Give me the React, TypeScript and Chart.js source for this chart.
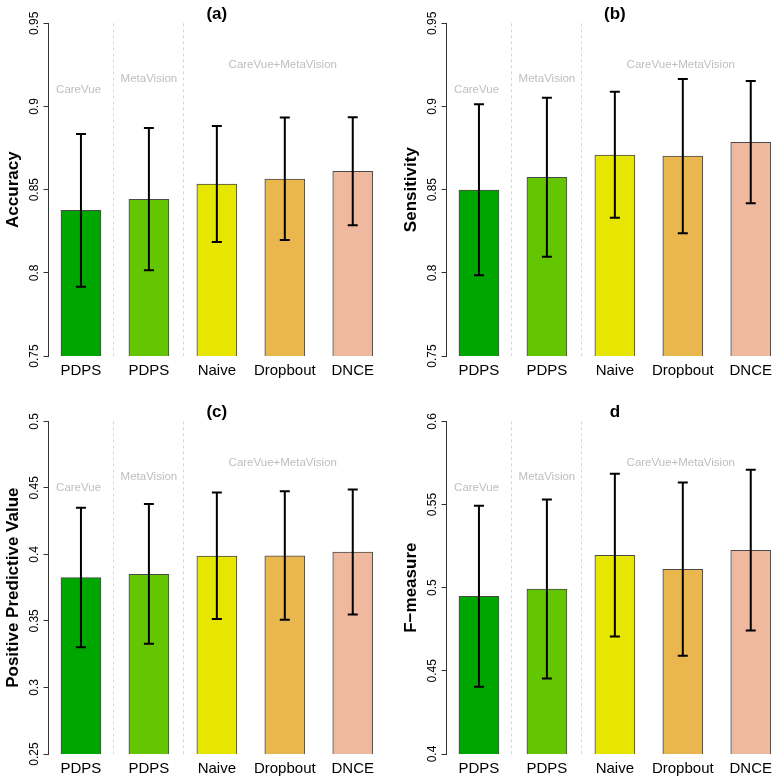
import React, { useEffect, useRef } from "react";
import { Chart, registerables } from "chart.js";

Chart.register(...registerables);

// ---------- data ----------
const CATEGORIES = ["PDPS", "PDPS", "Naive", "Dropbout", "DNCE"];
const BAR_COLORS = ["#00A600", "#63C600", "#E6E600", "#EAB64E", "#EEB99F"];
const GROUP_NAMES = ["CareVue", "MetaVision", "CareVue+MetaVision"];

const ACCURACY = [0.8376, 0.8442, 0.8534, 0.8564, 0.861];
const ACCURACY_LOW = [0.7917, 0.8015, 0.8185, 0.8197, 0.8286];
const ACCURACY_HIGH = [0.8834, 0.8871, 0.8883, 0.8933, 0.8935];

const SENSITIVITY = [0.8498, 0.8574, 0.8708, 0.8702, 0.8785];
const SENSITIVITY_LOW = [0.7985, 0.8097, 0.8331, 0.8238, 0.8418];
const SENSITIVITY_HIGH = [0.9013, 0.9053, 0.9089, 0.9165, 0.9153];

const PPV = [0.3825, 0.385, 0.3988, 0.399, 0.4018];
const PPV_LOW = [0.3303, 0.3328, 0.3515, 0.3508, 0.3548];
const PPV_HIGH = [0.435, 0.4378, 0.4465, 0.4475, 0.4488];

const FMEASURE = [0.4948, 0.4992, 0.5194, 0.511, 0.5224];
const FMEASURE_LOW = [0.4404, 0.4454, 0.4706, 0.459, 0.4742];
const FMEASURE_HIGH = [0.5492, 0.553, 0.5684, 0.5632, 0.5708];

const Y_TICKS_AB = [0.75, 0.8, 0.85, 0.9, 0.95];
const Y_TICKS_C = [0.25, 0.3, 0.35, 0.4, 0.45, 0.5];
const Y_TICKS_D = [0.4, 0.45, 0.5, 0.55, 0.6];

// ---------- layout / style ----------
const PANEL = 398;
const FONT = "'Liberation Sans', Arial, Helvetica, sans-serif";
const SEPARATORS = [0.47, 1.5];
const GROUP_POS = [
  { x: -0.035, f: 0.8 },
  { x: 1.0, f: 0.833 },
  { x: 2.97, f: 0.875 },
];

const PANELS = [
  { title: "(a)", yLabel: "Accuracy", values: ACCURACY, low: ACCURACY_LOW, high: ACCURACY_HIGH, yTicks: Y_TICKS_AB, left: 0, top: 0 },
  { title: "(b)", yLabel: "Sensitivity", values: SENSITIVITY, low: SENSITIVITY_LOW, high: SENSITIVITY_HIGH, yTicks: Y_TICKS_AB, left: PANEL, top: 0 },
  { title: "(c)", yLabel: "Positive Predictive Value", values: PPV, low: PPV_LOW, high: PPV_HIGH, yTicks: Y_TICKS_C, left: 0, top: PANEL },
  { title: "d", yLabel: "F\u2212measure", values: FMEASURE, low: FMEASURE_LOW, high: FMEASURE_HIGH, yTicks: Y_TICKS_D, left: PANEL, top: PANEL },
];

function fmt(v: number) {
  return String(Number(v.toFixed(2)));
}

function Panel({ p }: { p: any }) {
  const ref = useRef<HTMLCanvasElement>(null);
  useEffect(() => {
    const yMin = p.yTicks[0];
    const yMax = p.yTicks[p.yTicks.length - 1];
    const overlay = {
      id: "overlay",
      beforeDatasetsDraw(chart: any) {
        const { ctx, chartArea, scales } = chart;
        const x = scales.x;
        ctx.save();
        ctx.strokeStyle = "#D6D6D6";
        ctx.lineWidth = 1;
        ctx.setLineDash([3, 3]);
        for (const s of SEPARATORS) {
          const px = Math.round(x.getPixelForValue(s)) + 0.5;
          ctx.beginPath();
          ctx.moveTo(px, chartArea.top);
          ctx.lineTo(px, chartArea.bottom);
          ctx.stroke();
        }
        ctx.restore();
      },
      afterDatasetsDraw(chart: any) {
        const { ctx, chartArea, scales } = chart;
        const x = scales.x;
        const y = scales.y;
        ctx.save();
        // group labels
        ctx.fillStyle = "#BEBEBE";
        ctx.font = `11.5px ${FONT}`;
        ctx.textAlign = "center";
        ctx.textBaseline = "middle";
        GROUP_NAMES.forEach((g, i) => {
          const gp = GROUP_POS[i];
          ctx.fillText(g, x.getPixelForValue(gp.x), y.getPixelForValue(yMin + gp.f * (yMax - yMin)));
        });
        // error bars
        ctx.strokeStyle = "#000";
        ctx.lineWidth = 2;
        ctx.lineCap = "butt";
        p.values.forEach((_: number, i: number) => {
          const px = x.getPixelForValue(i);
          const yl = y.getPixelForValue(p.low[i]);
          const yh = y.getPixelForValue(p.high[i]);
          ctx.beginPath();
          ctx.moveTo(px, yl);
          ctx.lineTo(px, yh);
          ctx.moveTo(px - 5, yl);
          ctx.lineTo(px + 5, yl);
          ctx.moveTo(px - 5, yh);
          ctx.lineTo(px + 5, yh);
          ctx.stroke();
        });
        // title
        ctx.fillStyle = "#000";
        ctx.font = `bold 17px ${FONT}`;
        ctx.textAlign = "center";
        ctx.textBaseline = "middle";
        ctx.fillText(p.title, (chartArea.left + chartArea.right) / 2, 14);
        ctx.restore();
      },
    };

    const chart = new Chart(ref.current as HTMLCanvasElement, {
      type: "bar",
      data: {
        datasets: [
          {
            data: p.values.map((v: number, i: number) => ({ x: i, y: v })),
            backgroundColor: BAR_COLORS,
            borderColor: "#4a4a4a",
            borderWidth: 1,
            borderSkipped: false,
            barThickness: 40,
          },
        ],
      },
      options: {
        responsive: false,
        animation: false,
        devicePixelRatio: 1,
        events: [],
        layout: { padding: { top: 23.3, right: 12.8, left: 0, bottom: 0 } },
        plugins: { legend: { display: false }, tooltip: { enabled: false }, title: { display: false } },
        scales: {
          x: {
            type: "linear",
            offset: false,
            min: -0.4776,
            max: 4.4776,
            grid: { display: false, drawTicks: false, offset: false },
            border: { display: false },
            afterBuildTicks: (scale: any) => {
              scale.ticks = CATEGORIES.map((_, i) => ({ value: i }));
            },
            afterFit: (scale: any) => {
              scale.height = 42;
            },
            ticks: {
              autoSkip: false,
              maxRotation: 0,
              minRotation: 0,
              padding: 5.5,
              color: "#000",
              font: { family: FONT, size: 15 },
              callback: (v: any) => CATEGORIES[Math.round(Number(v))],
            },
          },
          y: {
            type: "linear",
            min: yMin,
            max: yMax,
            afterBuildTicks: (scale: any) => {
              scale.ticks = p.yTicks.map((v: number) => ({ value: v }));
            },
            afterFit: (scale: any) => {
              scale.width = 48.5;
            },
            grid: { display: true, drawOnChartArea: false, drawTicks: true, tickLength: 5, color: "#333", lineWidth: 1 },
            border: { display: true, color: "#333", width: 1 },
            title: {
              display: true,
              text: p.yLabel,
              color: "#000",
              font: { family: FONT, size: 17, weight: "bold" },
              padding: { top: 3, bottom: 0 },
            },
            ticks: {
              minRotation: 90,
              maxRotation: 90,
              crossAlign: "center",
              padding: -2.5,
              color: "#000",
              font: { family: FONT, size: 12 },
              callback: (v: any) => fmt(Number(v)),
            },
          },
        },
      } as any,
      plugins: [overlay],
    });
    return () => chart.destroy();
  }, []);
  return (
    <div style={{ position: "absolute", left: p.left, top: p.top, width: PANEL, height: PANEL }}>
      <canvas ref={ref} width={PANEL} height={PANEL} style={{ display: "block" }} />
    </div>
  );
}

export default function App() {
  useEffect(() => {
    document.body.style.margin = "0";
  }, []);
  return (
    <div
      style={{
        position: "absolute",
        left: 0,
        top: 0,
        width: 776,
        height: 778,
        overflow: "hidden",
        background: "#fff",
      }}
    >
      {PANELS.map((p, i) => (
        <Panel key={i} p={p} />
      ))}
    </div>
  );
}
